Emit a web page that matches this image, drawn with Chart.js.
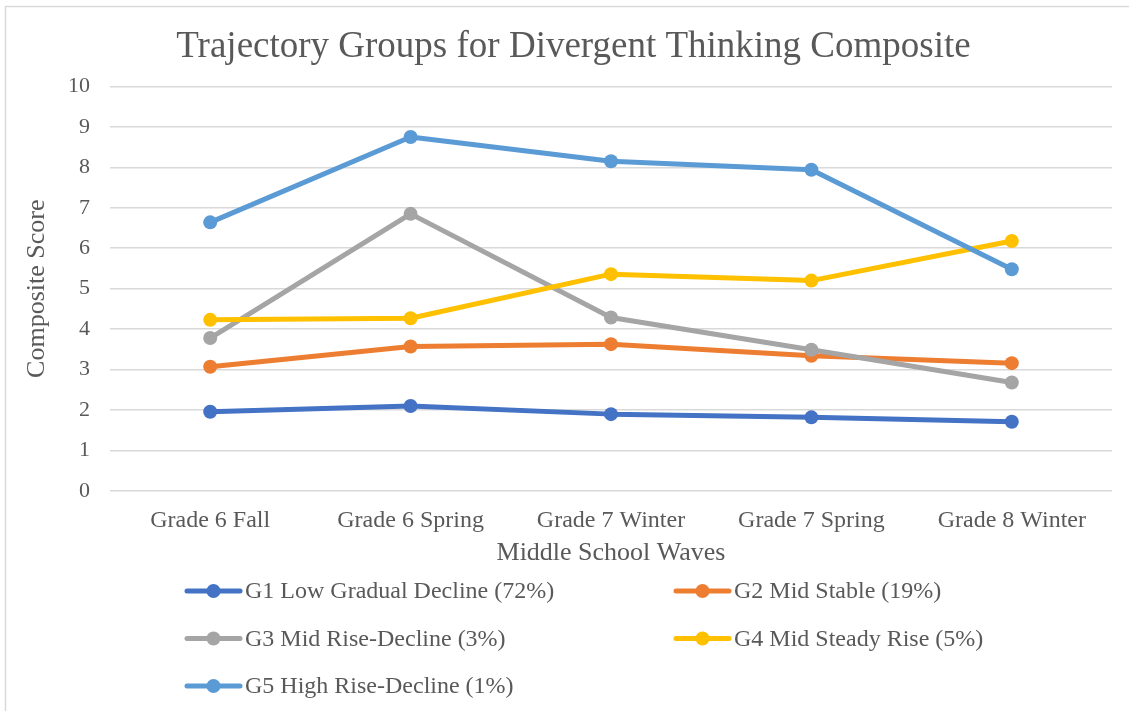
<!DOCTYPE html>
<html>
<head>
<meta charset="utf-8">
<title>Trajectory Groups for Divergent Thinking Composite</title>
<script src="https://cdn.jsdelivr.net/npm/chart.js@4/dist/chart.umd.min.js"></script>
<style>
    body { margin: 0; background: #fff; }
    canvas { display: block; }
</style>
</head>
<body>
<canvas id="trajchart" width="1129" height="711"></canvas>
<script>
// Middle school waves and mean composite score per trajectory group
var waves = ["Grade 6 Fall", "Grade 6 Spring", "Grade 7 Winter", "Grade 7 Spring", "Grade 8 Winter"];

var groupNames = [
    "G1 Low Gradual Decline (72%)",
    "G2 Mid Stable (19%)",
    "G3 Mid Rise-Decline (3%)",
    "G4 Mid Steady Rise (5%)",
    "G5 High Rise-Decline (1%)"
];

var g1 = [1.96, 2.10, 1.90, 1.82, 1.71];
var g2 = [3.07, 3.57, 3.63, 3.34, 3.16];
var g3 = [3.78, 6.85, 4.29, 3.49, 2.68];
var g4 = [4.23, 4.27, 5.36, 5.20, 6.18];
var g5 = [6.64, 8.75, 8.15, 7.94, 5.48];

var yTicks = [0, 1, 2, 3, 4, 5, 6, 7, 8, 9, 10];

(function () {
    var colors = ["#4472C4", "#ED7D31", "#A5A5A5", "#FFC000", "#5B9BD5"],
        series = [g1, g2, g3, g4, g5],
        textColor = "#595959",
        fontFamily = "'Liberation Serif', 'Times New Roman', serif";

    var datasets = series.map(function (values, i) {
        return {
            label: groupNames[i],
            data: values,
            borderColor: colors[i],
            backgroundColor: colors[i],
            borderWidth: 5,
            borderCapStyle: "round",
            borderJoinStyle: "round",
            tension: 0,
            pointRadius: 7,
            pointHoverRadius: 7,
            pointBorderWidth: 0,
            pointBackgroundColor: colors[i],
            // later groups sit on top, like the office chart
            order: series.length - 1 - i
        };
    });

    // thin frame around the whole chart
    var framePlugin = {
        id: "frame",
        beforeDraw: function (chart) {
            var ctx = chart.ctx;
            ctx.save();
            ctx.strokeStyle = "#d9d9d9";
            ctx.lineWidth = 1.5;
            ctx.strokeRect(5.5, 6.5, chart.width + 20, chart.height + 20);
            ctx.restore();
        }
    };

    // two-column legend under the axis title
    var legendPlugin = {
        id: "colLegend",
        afterDraw: function (chart) {
            var ctx = chart.ctx,
                colX = [187, 676],
                rowY = 591,
                rowGap = 47.5,
                lineLen = 53;
            ctx.save();
            chart.data.datasets.forEach(function (ds, i) {
                var x = colX[i % 2],
                    y = rowY + Math.floor(i / 2) * rowGap;
                ctx.strokeStyle = ds.borderColor;
                ctx.lineWidth = 5;
                ctx.lineCap = "round";
                ctx.beginPath();
                ctx.moveTo(x, y);
                ctx.lineTo(x + lineLen, y);
                ctx.stroke();
                ctx.fillStyle = ds.borderColor;
                ctx.beginPath();
                ctx.arc(x + lineLen / 2, y, 7, 0, Math.PI * 2);
                ctx.fill();
                ctx.fillStyle = textColor;
                ctx.font = "24px " + fontFamily;
                ctx.textBaseline = "middle";
                ctx.textAlign = "left";
                ctx.fillText(ds.label, x + lineLen + 5, y + 1);
            });
            ctx.restore();
        }
    };

    var ctx = document.getElementById("trajchart").getContext("2d");
    new Chart(ctx, {
        type: "line",
        data: { labels: waves, datasets: datasets },
        plugins: [framePlugin, legendPlugin],
        options: {
            responsive: false,
            animation: false,
            events: [],
            // wider left padding pushes the title centre to the right
            layout: { padding: { top: 10, left: 35, right: 17, bottom: 140 } },
            plugins: {
                legend: { display: false },
                tooltip: { enabled: false },
                title: {
                    display: true,
                    text: "Trajectory Groups for Divergent Thinking Composite",
                    color: textColor,
                    font: { family: fontFamily, size: 37, weight: "normal" },
                    padding: { top: 15, bottom: 17 }
                }
            },
            scales: {
                x: {
                    offset: true,
                    grid: { display: false, drawTicks: false },
                    border: { display: false },
                    ticks: {
                        color: textColor,
                        padding: 15,
                        maxRotation: 0,
                        font: { family: fontFamily, size: 24 }
                    },
                    title: {
                        display: true,
                        text: "Middle School Waves",
                        color: textColor,
                        font: { family: fontFamily, size: 26 },
                        padding: { top: 0, bottom: 2 }
                    },
                    afterFit: function (scale) { scale.height = 80; }
                },
                y: {
                    min: 0,
                    max: 10,
                    grid: { color: "#d9d9d9", lineWidth: 1.5, drawTicks: false },
                    border: { display: false },
                    afterBuildTicks: function (scale) {
                        scale.ticks = yTicks.map(function (v) { return { value: v }; });
                    },
                    ticks: {
                        color: textColor,
                        padding: 20,
                        font: { family: fontFamily, size: 22 }
                    },
                    title: {
                        display: true,
                        text: "Composite Score",
                        color: textColor,
                        font: { family: fontFamily, size: 26 },
                        padding: { top: -13.5, bottom: 0 }
                    },
                    afterFit: function (scale) { scale.width = 75; }
                }
            }
        }
    });
})();
</script>
</body>
</html>
